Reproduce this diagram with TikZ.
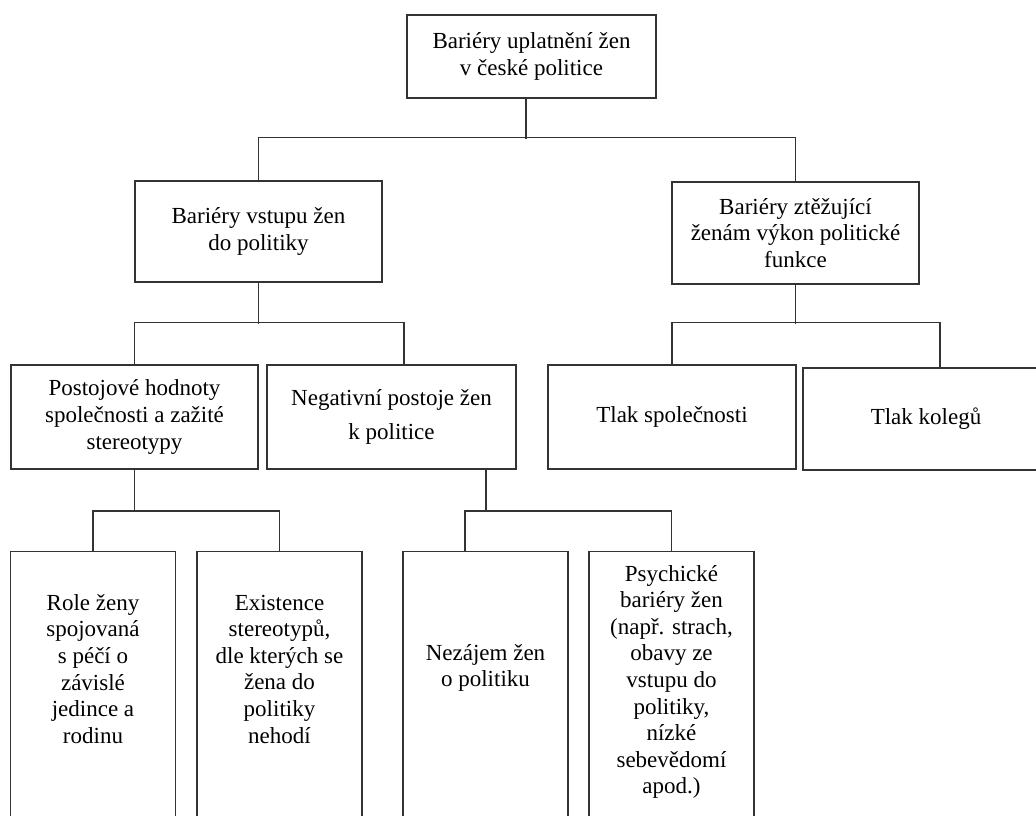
\documentclass[tikz,border=0pt]{standalone}
\usepackage{fontspec}
\setmainfont{Liberation Serif}
\usepackage{tikz}
\usetikzlibrary{positioning}
\tikzset{%
	barrier box/.style={
		rectangle,
		draw=black!80,
		line width=1.2pt,
		align=center,
		inner sep=2pt,
		font=\fontsize{23}{26.6}\selectfont
	},
	leaf box/.style={
		barrier box,
		anchor=north,
		minimum width=165pt,
		minimum height=300pt
	},
	leaf text/.style={
		align=center,
		inner sep=0pt,
		font=\fontsize{23}{26.6}\selectfont
	},
	tree line/.style={
		draw=black!80,
		line width=1.2pt
	},
}

\begin{document}
\begin{tikzpicture}[x=1pt,y=1pt]
	% Define the picture frame
	\useasboundingbox (0,0) rectangle (1036,-816);
	
	% Top level
	\node[barrier box, minimum width=249pt, minimum height=83pt] (top) at (531.5,-56.5) {Bariéry uplatnění žen\\v české politice};
	
	% Second level
	\node[barrier box, minimum width=247pt, minimum height=101pt] (vstup) at (258.5,-231.5) {Bariéry vstupu žen\\do politiky};
	\node[barrier box, minimum width=247pt, minimum height=102pt] (vykon) at (795.5,-233) {Bariéry ztěžující\\ženám výkon politické\\funkce};
	
	% Third level
	\node[barrier box, minimum width=247pt, minimum height=104pt] (postoj) at (134.5,-417) {Postojové hodnoty\\společnosti a zažité\\stereotypy};
	\node[barrier box, minimum width=249pt, minimum height=104pt] (negat) at (391.5,-417) {Negativní postoje žen\\[8pt]k politice};
	\node[barrier box, minimum width=248pt, minimum height=104pt] (spolec) at (672,-417) {Tlak společnosti};
	\node[barrier box, minimum width=246pt, minimum height=102pt] (kolegu) at (926,-419) {Tlak kolegů};
	
	% Fourth level, the boxes run off the bottom edge
	\node[leaf box] (role) at (93,-551) {};
	\node[leaf box] (exist) at (279.5,-551) {};
	\node[leaf box] (nezajem) at (485.5,-551) {};
	\node[leaf box] (psych) at (671.5,-551) {};
	
	\node[leaf text] (role text) at ([yshift=-118pt]role.north) {Role ženy\\spojovaná\\s péčí o\\závislé\\jedince a\\rodinu};
	\node[leaf text] (exist text) at ([yshift=-118pt]exist.north) {Existence\\stereotypů,\\dle kterých se\\žena do\\politiky\\nehodí};
	\node[leaf text] (nezajem text) at ([yshift=-117pt]nezajem.north) {Nezájem žen\\o politiku};
	\node[leaf text] (psych text) at ([yshift=-131pt]psych.north) {Psychické\\bariéry žen\\(např. strach,\\obavy ze\\vstupu do\\politiky,\\nízké\\sebevědomí\\apod.)};
	
	% Connecting lines
	\draw[tree line] ([xshift=-5.5pt]top.south) -- ++(0,-40);
	\draw[tree line] (vstup.north) -- ++(0,43) -| (vykon.north);
	\draw[tree line] (vstup.south) -- ++(0,-41);
	\draw[tree line] (postoj.north) -- ++(0,42) -| ([xshift=12.5pt]negat.north);
	\draw[tree line] (vykon.south) -- ++(0,-39);
	\draw[tree line] (spolec.north) -- ++(0,42) -| ([xshift=14pt]kolegu.north);
	\draw[tree line] (postoj.south) -- ++(0,-42);
	\draw[tree line] (role.north) -- ++(0,40) -| (exist.north);
	\draw[tree line] ([xshift=94.5pt]negat.south) -- ++(0,-42);
	\draw[tree line] ([xshift=-20.5pt]nezajem.north) -- ++(0,40) -| (psych.north);
\end{tikzpicture}
\end{document}
